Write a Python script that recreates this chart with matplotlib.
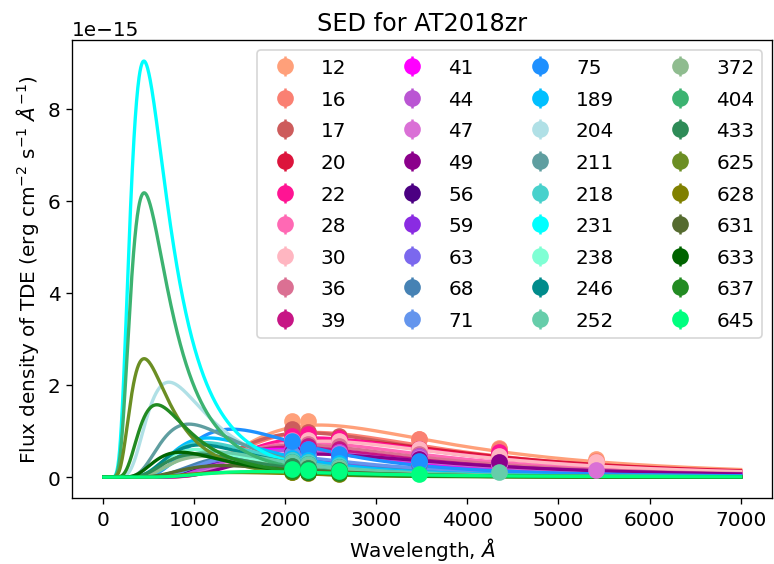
import numpy as np
import matplotlib
matplotlib.use('Agg')
import matplotlib.pyplot as plt

plt.rcParams['font.size'] = 12

# epochs (days) and the colour used for each
epochs = [12, 16, 17, 20, 22, 28, 30, 36, 39,
          41, 44, 47, 49, 56, 59, 63, 68, 71,
          75, 189, 204, 211, 218, 231, 238, 246, 252,
          372, 404, 433, 625, 628, 631, 633, 637, 645]
colors = ['lightsalmon', 'salmon', 'indianred', 'crimson', 'deeppink', 'hotpink',
          'lightpink', 'palevioletred', 'mediumvioletred',
          'magenta', 'mediumorchid', 'orchid', 'darkmagenta', 'indigo', 'blueviolet',
          'mediumslateblue', 'steelblue', 'cornflowerblue',
          'dodgerblue', 'deepskyblue', 'powderblue', 'cadetblue', 'mediumturquoise',
          'cyan', 'aquamarine', 'darkcyan', 'mediumaquamarine',
          'darkseagreen', 'mediumseagreen', 'seagreen', 'olivedrab', 'olive',
          'darkolivegreen', 'darkgreen', 'forestgreen', 'springgreen']

# blackbody fit per epoch: temperature (K) and peak flux (1e-15 erg/cm2/s/A)
temps = [12200, 12500, 13000, 11500, 12500, 13000, 12000, 13500, 14000,
         15000, 14000, 13000, 12500, 17000, 18000, 18000, 19000, 17000,
         20500, 25000, 40000, 30700, 26000, 64400, 28000, 27000, 24000,
         26000, 64000, 28000, 64000, 20000, 22000, 34000, 49000, 17000]
peaks = [1.13, 0.97, 0.96, 0.80, 0.85, 0.75, 0.78, 0.70, 0.65,
         0.60, 0.58, 0.52, 0.50, 0.45, 0.45, 0.42, 0.45, 0.50,
         1.04, 0.85, 2.06, 1.15, 0.75, 9.03, 0.60, 0.70, 0.55,
         0.45, 6.17, 0.50, 2.57, 0.10, 0.25, 0.54, 1.57, 0.12]

# Swift/UVOT filter wavelengths (A) and observed fluxes (1e-15), nan = no data
filt_wl = [2079, 2255, 2591, 3465, 4350, 5411]
nan = np.nan
f_uvw2 = [1.21, 1.00, 1.04, 0.78, 0.90, 0.80, 0.78, 0.75, 0.70,
          0.62, 0.60, 0.55, 0.55, 0.45, 0.45, 0.42, 0.42, 0.50,
          0.79, 0.42, 0.35, 0.38, 0.38, 0.33, 0.28, 0.32, 0.32,
          0.25, 0.24, 0.24, 0.12, 0.10, 0.15, 0.15, 0.14, 0.17]
f_uvm2 = [1.21, 0.98, 0.98, 0.82, 0.93, 0.78, 0.80, 0.72, 0.68,
          0.60, 0.58, 0.55, 0.52, 0.42, 0.42, 0.40, 0.40, 0.48,
          0.61, 0.38, 0.28, 0.33, 0.32, 0.25, 0.24, 0.28, 0.28,
          0.22, 0.20, 0.20, 0.10, 0.08, 0.12, 0.12, 0.10, 0.15]
f_uvw1 = [nan, 0.88, 0.90, 0.85, 0.85, 0.75, 0.78, 0.68, 0.62,
          0.55, 0.55, 0.52, 0.48, 0.38, 0.38, 0.35, 0.36, 0.42,
          0.50, 0.30, 0.22, 0.25, 0.26, 0.18, 0.20, 0.22, 0.22,
          0.18, 0.15, 0.16, 0.08, 0.07, 0.10, 0.10, 0.08, 0.14]
f_u = [0.83, 0.83, 0.62, 0.62, 0.60, 0.55, 0.62, 0.50, 0.45,
       0.42, 0.45, 0.42, 0.40, 0.30, 0.28, 0.27, 0.28, 0.32,
       0.35, nan, nan, nan, nan, nan, nan, nan, nan,
       nan, nan, nan, nan, nan, nan, nan, nan, 0.07]
f_b = [0.64, 0.60, nan, 0.50, 0.54, 0.40, 0.45, 0.32, 0.30,
       0.28, 0.30, 0.28, 0.33, nan, nan, nan, nan, nan,
       nan, nan, nan, nan, nan, nan, nan, nan, 0.12,
       nan, nan, nan, nan, nan, nan, nan, nan, nan]
f_v = [0.39, 0.35, nan, nan, nan, nan, 0.33, nan, nan,
       nan, nan, 0.16, nan, nan, nan, nan, nan, nan,
       nan, nan, nan, nan, nan, nan, nan, nan, nan,
       nan, nan, nan, nan, nan, nan, nan, nan, nan]
flux_err = 0.02

wl = np.linspace(10, 7000, 1500)


def planck_shape(lam, T):
    x = 1.4388e8 / (lam * T)
    with np.errstate(over='ignore'):
        b = x**5 / np.expm1(x)
    return b / 21.2014


fig, ax = plt.subplots(figsize=(6.45, 4.708), dpi=120)
fig.subplots_adjust(left=0.093, right=0.998, bottom=0.117, top=0.927)

obs = np.array([f_uvw2, f_uvm2, f_uvw1, f_u, f_b, f_v]).T
for i, ep in enumerate(epochs):
    c = colors[i]
    ax.plot(wl, peaks[i] * 1e-15 * planck_shape(wl, temps[i]), color=c, lw=2)
    fl = obs[i] * 1e-15
    ok = ~np.isnan(fl)
    ax.errorbar(np.array(filt_wl)[ok], fl[ok], yerr=flux_err * 1e-15,
                fmt='o', color=c, ms=9, label=str(ep))

ax.set_title('SED for AT2018zr')
ax.set_xlabel(r'Wavelength, $\AA$')
ax.set_ylabel(r'Flux density of TDE (erg cm$^{-2}$ s$^{-1}$ $\AA^{-1}$)')
ax.legend(ncol=4, loc='upper right', columnspacing=2.3, labelspacing=0.63)

plt.savefig('out.png', dpi=120)
plt.close()
